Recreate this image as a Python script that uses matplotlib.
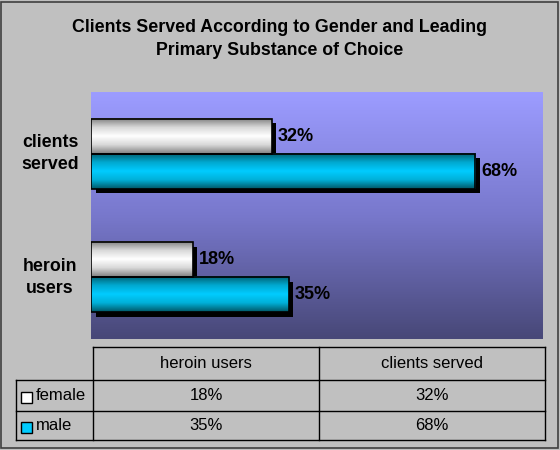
import numpy as np
import matplotlib.pyplot as plt
import matplotlib.patches as mpatches
import matplotlib.transforms as mtransforms
from matplotlib.colors import LinearSegmentedColormap

plt.rcParams['font.family'] = ['Liberation Sans', 'DejaVu Sans']

# data
categories = ['clients served', 'heroin users']
series = ['female', 'male']
female = [32, 18]
male = [68, 35]
table_cols = ['heroin users', 'clients served']

W, H = 560, 450
fig = plt.figure(figsize=(5.6, 4.5), dpi=100)
fig.patch.set_facecolor('#c0c0c0')

# overlay axes in pixel coordinates for title, labels, table
ov = fig.add_axes([0, 0, 1, 1], zorder=0)
ov.set_xlim(0, W)
ov.set_ylim(H, 0)
ov.axis('off')
ov.add_patch(mpatches.Rectangle((1, 2), 557, 446, fill=False, edgecolor='#404040', lw=1.2))

ov.text(280, 39, 'Clients Served According to Gender and Leading\nPrimary Substance of Choice',
        ha='center', va='center', fontsize=12.8, fontweight='bold', linespacing=1.5)

# main plot area
px_l, px_r, px_t, px_b = 91, 543, 92, 339
ax = fig.add_axes([px_l / W, 1 - px_b / H, (px_r - px_l) / W, (px_b - px_t) / H], zorder=1)
ax.axis('off')

bg = LinearSegmentedColormap.from_list('bg', ['#9c9cff', '#7878cc', '#484878'])
ax.imshow(np.linspace(0, 1, 100).reshape(-1, 1), cmap=bg, aspect='auto',
          extent=(0, 80, 2, 0), zorder=0)

fem_cmap = LinearSegmentedColormap.from_list('f', ['#808080', '#d8d8d8', '#ffffff', '#d8d8d8', '#808080'])
male_cmap = LinearSegmentedColormap.from_list('m', ['#006070', '#00a8d0', '#00ccff', '#00b0d8', '#005868'])

shadow = ax.transData + mtransforms.ScaledTranslation(0.045, -0.045, fig.dpi_scale_trans)
h = 0.285
grad = np.linspace(0, 1, 60).reshape(-1, 1)
for i, cat in enumerate(categories):
    yc = i + 0.5
    for val, y0, cm in [(female[i], yc - h, fem_cmap), (male[i], yc, male_cmap)]:
        ax.add_patch(mpatches.Rectangle((0, y0), val, h, facecolor='black', edgecolor='none',
                                        transform=shadow, zorder=2))
        ax.imshow(grad, cmap=cm, aspect='auto', extent=(0, val, y0 + h, y0), zorder=3)
        ax.add_patch(mpatches.Rectangle((0, y0), val, h, fill=False, edgecolor='black',
                                        lw=1.2, zorder=4))
        ax.annotate(f'{val}%', (val, y0 + h / 2), xytext=(6, 0), textcoords='offset pixels',
                    ha='left', va='center', fontsize=13, fontweight='bold', zorder=5)
    ov.text(50, px_t + (i + 0.5) * (px_b - px_t) / 2, cat.replace(' ', '\n'),
            ha='center', va='center', fontsize=12.8, fontweight='bold', linespacing=1.4)

ax.set_xlim(0, 80)
ax.set_ylim(2, 0)

# data table
lc = 'black'
lw = 1
ov.plot([93, 545], [347, 347], color=lc, lw=lw)
for y in [380, 411, 440]:
    ov.plot([16, 545], [y, y], color=lc, lw=lw)
ov.plot([93, 93], [347, 440], color=lc, lw=lw)
ov.plot([319, 319], [347, 440], color=lc, lw=lw)
ov.plot([545, 545], [347, 440], color=lc, lw=lw)
ov.plot([16, 16], [380, 440], color=lc, lw=lw)

col_x = [206, 432]
for j, name in enumerate(table_cols):
    ov.text(col_x[j], 363, name, ha='center', va='center', fontsize=12)
row_y = [396, 426]
rows = [female[::-1], male[::-1]]
for r, name in enumerate(series):
    for j in range(2):
        ov.text(col_x[j], row_y[r], f'{rows[r][j]}%', ha='center', va='center', fontsize=12)
    ov.text(36, row_y[r], name, ha='left', va='center', fontsize=12)

ov.add_patch(mpatches.Rectangle((21, 392), 11, 11, facecolor='white', edgecolor='black', lw=1))
ov.add_patch(mpatches.Rectangle((21, 422), 11, 11, facecolor='#00ccff', edgecolor='black', lw=1))

fig.savefig('out.png', dpi=100, facecolor=fig.get_facecolor())
